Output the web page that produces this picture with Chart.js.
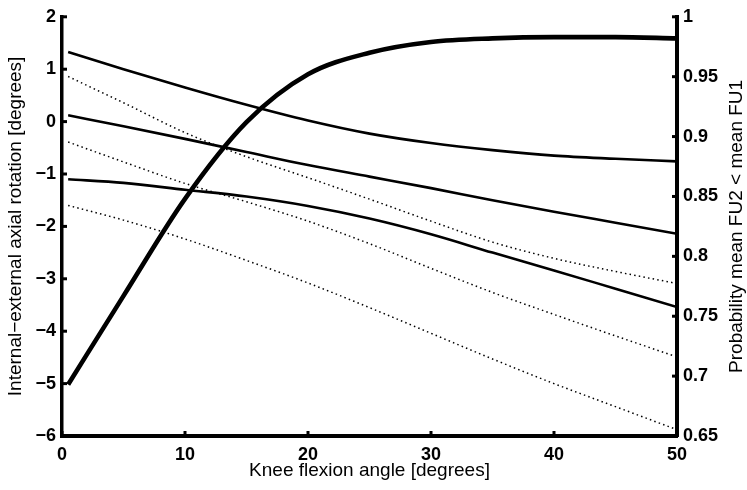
<!DOCTYPE html>
<html>
<head>
<meta charset="utf-8">
<script src="https://cdn.jsdelivr.net/npm/chart.js@4/dist/chart.umd.min.js"></script>
<style>
  html, body { margin: 0; padding: 0; background: #fff; }
  #wrap { width: 747px; height: 490px; }
</style>
</head>
<body>
<div id="wrap"><canvas id="chart" width="747" height="490"></canvas></div>
<script>
// Knee flexion angle (x) and readings
const angles = [0.5, 5, 10, 15, 20, 25, 30, 35, 40, 45, 50];

// solid curves (left axis, degrees)
const solidTop = [1.33, 1.00, 0.65, 0.32, 0.02, -0.23, -0.41, -0.545, -0.65, -0.71, -0.76];
const solidMid = [0.12, -0.09, -0.33, -0.58, -0.83, -1.05, -1.27, -1.50, -1.72, -1.93, -2.14];
const solidLow = [-1.10, -1.17, -1.30, -1.43, -1.61, -1.85, -2.15, -2.50, -2.84, -3.19, -3.54];

// dotted curves (left axis, degrees)
const dotTop = [0.86, 0.36, -0.21, -0.67, -1.07, -1.48, -1.90, -2.30, -2.61, -2.86, -3.09];
const dotMid = [-0.39, -0.77, -1.18, -1.53, -1.90, -2.33, -2.80, -3.26, -3.68, -4.09, -4.49];
const dotLow = [-1.60, -1.88, -2.24, -2.65, -3.08, -3.55, -4.04, -4.53, -5.00, -5.44, -5.88];

// probability curve (right axis)
const probability = [0.693, 0.767, 0.848, 0.912, 0.952, 0.970, 0.979, 0.982, 0.983, 0.983, 0.982];

const xTitle = 'Knee flexion angle [degrees]';
const yTitle = 'Internal\u2212external axial rotation [degrees]';
const y1Title = 'Probability mean FU2 < mean FU1';

const FONT = '"Liberation Sans", Arial, Helvetica, sans-serif';
const TICK_SIZE = 18;
const TITLE_SIZE = 19;

function pts(ys) {
    return angles.map((a, i) => ({ x: a, y: ys[i] }));
}

function minus(v) {
    const s = String(Number(v.toFixed(2)));
    return s.replace('-', '\u2212');
}

function lineSet(ys, width, dash, axis) {
    return {
        data: pts(ys),
        yAxisID: axis || 'y',
        borderColor: '#000',
        borderWidth: width,
        borderDash: dash || [],
        pointRadius: 0,
        fill: false,
        cubicInterpolationMode: 'monotone'
    };
}

// inward tick marks and the right-hand title
const matlabAxes = {
    id: 'matlabAxes',
    afterDraw(chart) {
        const ctx = chart.ctx;
        const area = chart.chartArea;
        const len = 5;
        ctx.save();
        ctx.strokeStyle = '#000';
        ctx.lineWidth = 3;

        chart.scales.x.ticks.forEach(t => {
            const px = chart.scales.x.getPixelForValue(t.value);
            ctx.beginPath();
            ctx.moveTo(px, area.bottom);
            ctx.lineTo(px, area.bottom - len);
            ctx.stroke();
        });
        chart.scales.y.ticks.forEach(t => {
            const py = chart.scales.y.getPixelForValue(t.value);
            ctx.beginPath();
            ctx.moveTo(area.left, py);
            ctx.lineTo(area.left + len, py);
            ctx.stroke();
        });
        chart.scales.y1.ticks.forEach(t => {
            const py = chart.scales.y1.getPixelForValue(t.value);
            ctx.beginPath();
            ctx.moveTo(area.right, py);
            ctx.lineTo(area.right - len, py);
            ctx.stroke();
        });

        // right title reads bottom-to-top like the left one
        ctx.fillStyle = '#000';
        ctx.font = TITLE_SIZE + 'px ' + FONT;
        ctx.textAlign = 'center';
        ctx.textBaseline = 'middle';
        ctx.translate(737, (area.top + area.bottom) / 2);
        ctx.rotate(-Math.PI / 2);
        ctx.fillText(y1Title, 0, 0);
        ctx.restore();
    }
};

Chart.defaults.color = '#000';
Chart.defaults.font.family = FONT;

new Chart(document.getElementById('chart'), {
    type: 'line',
    data: {
        datasets: [
            lineSet(dotTop, 1.5, [1.5, 3.2]),
            lineSet(dotMid, 1.5, [1.5, 3.2]),
            lineSet(dotLow, 1.5, [1.5, 3.2]),
            lineSet(solidTop, 2.6),
            lineSet(solidMid, 2.6),
            lineSet(solidLow, 2.6),
            lineSet(probability, 4.6, [], 'y1')
        ]
    },
    options: {
        responsive: false,
        animation: false,
        layout: { padding: { top: 12, left: 0, right: 0, bottom: 0 } },
        plugins: {
            legend: { display: false },
            tooltip: { enabled: false }
        },
        scales: {
            x: {
                type: 'linear',
                min: 0,
                max: 50,
                grid: { display: false, drawTicks: false },
                border: { display: true, width: 4, color: '#000' },
                ticks: {
                    stepSize: 10,
                    padding: 8,
                    font: { size: TICK_SIZE, weight: 'bold' },
                    maxRotation: 0
                },
                title: {
                    display: true,
                    text: xTitle,
                    font: { size: TITLE_SIZE },
                    padding: { top: 0, bottom: 8 }
                },
                afterFit(scale) { scale.height = 54; }
            },
            y: {
                position: 'left',
                min: -6,
                max: 2,
                grid: { display: false, drawTicks: false },
                border: { display: true, width: 3.5, color: '#000' },
                ticks: {
                    stepSize: 1,
                    padding: 6,
                    font: { size: TICK_SIZE, weight: 'bold' },
                    callback: v => minus(v)
                },
                title: {
                    display: true,
                    text: yTitle,
                    font: { size: TITLE_SIZE },
                    padding: { top: 4, bottom: 0 }
                },
                afterFit(scale) { scale.width = 62; }
            },
            y1: {
                position: 'right',
                min: 0.65,
                max: 1,
                grid: { display: false, drawTicks: false },
                border: { display: true, width: 4, color: '#000' },
                ticks: {
                    stepSize: 0.05,
                    padding: 6,
                    font: { size: TICK_SIZE, weight: 'bold' },
                    callback: v => minus(v)
                },
                afterFit(scale) { scale.width = 70; }
            }
        }
    },
    plugins: [matlabAxes]
});
</script>
</body>
</html>
